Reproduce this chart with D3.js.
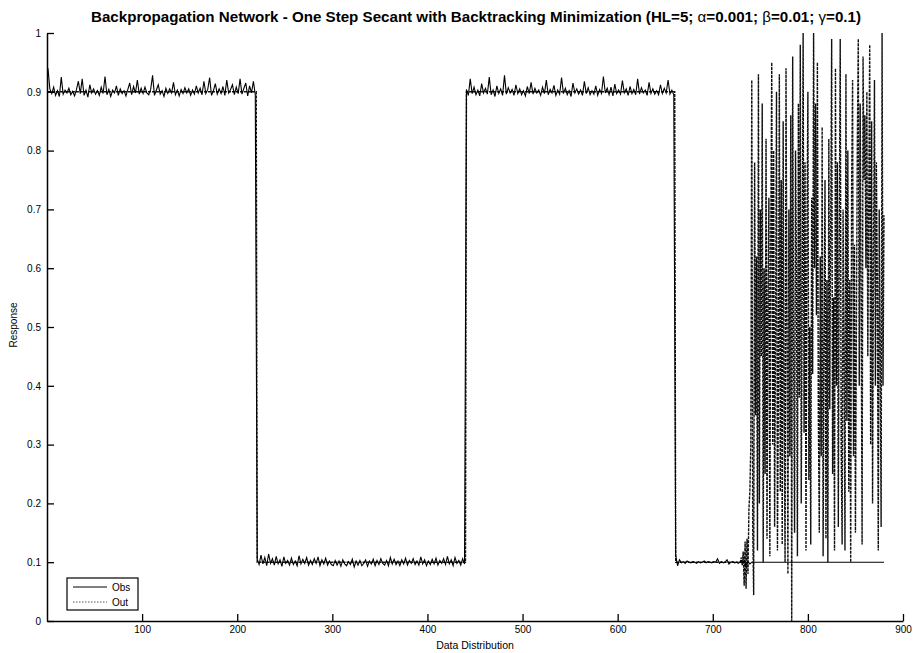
<!DOCTYPE html>
<html>
<head>
<meta charset="utf-8">
<script src="https://cdn.jsdelivr.net/npm/d3@7"></script>
<style>
  html, body { margin: 0; padding: 0; background: #fff; }
  svg { display: block; }
  text { font-family: "Liberation Sans", Arial, sans-serif; fill: #000; }
</style>
</head>
<body>
<div id="chart"></div>
<script>
// ---------------- DATA ----------------
const xTicks = [100, 200, 300, 400, 500, 600, 700, 800, 900];
const yTicks = [0, 0.1, 0.2, 0.3, 0.4, 0.5, 0.6, 0.7, 0.8, 0.9, 1];
const seriesNames = ["Obs", "Out"];

// Obs, x = 1..219 (every 2nd sample)
const obsA = [.940,.905,.897,.908,.894,.902,.892,.925,.896,.903,
  .898,.906,.895,.901,.893,.904,.918,.897,.922,.894,
  .903,.891,.912,.898,.905,.896,.902,.894,.908,.897,
  .926,.895,.904,.892,.903,.898,.910,.894,.905,.897,
  .902,.893,.904,.915,.895,.909,.898,.920,.896,.906,
  .897,.908,.898,.895,.904,.928,.894,.903,.912,.896,
  .902,.892,.906,.897,.905,.898,.916,.895,.903,.893,
  .904,.897,.907,.898,.905,.894,.903,.896,.910,.898,
  .906,.895,.918,.897,.904,.924,.894,.902,.914,.896,
  .905,.897,.909,.894,.920,.898,.904,.912,.895,.908,
  .897,.922,.896,.906,.915,.893,.910,.898,.918,.895];
// Obs, x = 221..439
const obsB = [.105,.096,.112,.097,.108,.094,.114,.098,.106,.095,
  .110,.097,.104,.093,.109,.098,.103,.095,.107,.096,
  .102,.094,.111,.097,.105,.098,.108,.095,.103,.096,
  .106,.098,.109,.094,.104,.097,.107,.095,.102,.096,
  .094,.103,.095,.102,.093,.104,.097,.094,.101,.096,
  .105,.092,.102,.095,.103,.094,.098,.104,.093,.102,
  .097,.105,.094,.103,.096,.106,.098,.095,.103,.094,
  .108,.097,.105,.096,.102,.094,.104,.097,.107,.095,
  .103,.098,.106,.096,.102,.095,.109,.097,.104,.094,
  .102,.096,.105,.097,.107,.095,.103,.098,.106,.096,
  .110,.097,.104,.094,.108,.098,.103,.095,.106,.097];
// Obs, x = 441..659
const obsC = [.904,.894,.922,.897,.908,.895,.903,.893,.914,.898,
  .906,.896,.925,.895,.903,.892,.910,.897,.905,.894,
  .928,.896,.907,.898,.904,.894,.912,.897,.905,.895,
  .902,.893,.909,.897,.916,.896,.906,.898,.903,.894,
  .908,.897,.920,.895,.904,.898,.911,.894,.903,.896,
  .924,.897,.906,.895,.902,.892,.915,.898,.905,.896,
  .903,.894,.918,.897,.907,.895,.902,.896,.910,.894,
  .904,.897,.926,.898,.906,.895,.908,.893,.913,.897,
  .903,.896,.919,.898,.905,.894,.909,.897,.904,.895,
  .922,.896,.907,.898,.903,.894,.916,.897,.905,.896,
  .902,.895,.912,.897,.906,.898,.920,.896,.903,.895];
// Obs, x = 661..741
const obsD = [.112,.094,.104,.099,.101,.098,.102,.100,.099,.101,
  .100,.098,.101,.099,.100,.102,.099,.101,.100,.099,
  .101,.100,.106,.098,.101,.099,.100,.104,.097,.100,
  .101,.099,.100,.098,.101,.098,.103,.094,.101,.097,.100];
// Obs, final point
const obsTailX = [880];
const obsTailY = [0.1];

// Out, x = 1..729 (follows the target levels)
const outStepX = [1, 220, 221, 440, 441, 660, 661, 729];
const outStepY = [0.9, 0.9, 0.1, 0.1, 0.9, 0.9, 0.1, 0.1];
// Out, x = 730..880
const outChaos = [.108,.095,.118,.060,.135,.055,.140,.080,.190,.220,
  .30,.92,.15,.044,.78,.35,.62,.12,.93,.20,
  .70,.45,.88,.10,.60,.25,.82,.14,.55,.72,
  .11,.66,.95,.30,.80,.16,.50,.90,.12,.40,
  .93,.22,.75,.13,.85,.35,.10,.94,.50,.08,
  .70,.28,.86,.00,.96,.45,.15,.80,.60,.11,
  .88,.38,.98,.20,.55,1.00,.32,.78,.12,.65,
  .90,.24,.50,.13,.72,.42,1.00,.60,.88,.52,
  .95,.35,.15,.62,.28,.84,.11,.48,.75,.14,
  .58,.10,.82,.36,.68,.99,.25,.55,.12,.94,
  .40,.78,.16,.66,.99,.30,.13,.70,.45,.12,
  .93,.34,.80,.22,.58,.10,.74,.92,.28,.64,
  .15,.50,.82,.99,.40,.88,.55,.13,.96,.75,
  .86,.60,.90,.45,.72,.98,.30,.85,.20,.62,
  .92,.40,.78,.58,.12,.70,.45,.16,1.00,.40,
  .69];

// ---------------- BUILD SERIES ----------------
function seg(vals, start, step) { return vals.map((v, i) => [start + i * step, v]); }
const obsData = [].concat(
  seg(obsA, 1, 2), seg(obsB, 221, 2), seg(obsC, 441, 2), seg(obsD, 661, 2),
  obsTailX.map((x, i) => [x, obsTailY[i]])
);
const outData = [].concat(
  outStepX.map((x, i) => [x, outStepY[i]]),
  seg(outChaos, 730, 1)
);

// ---------------- CHART ----------------
const W = 916, H = 653;
const svg = d3.select("#chart").append("svg").attr("width", W).attr("height", H);

const x = d3.scaleLinear().domain([0, 900]).range([47, 903]);
const y = d3.scaleLinear().domain([0, 1]).range([621, 33]);

const line = d3.line().x(d => x(d[0])).y(d => y(d[1]));

// Out (dotted) underneath
svg.append("path").datum(outData)
  .attr("d", line).attr("fill", "none")
  .attr("stroke", "#111").attr("stroke-width", 1.4)
  .attr("stroke-dasharray", "3,1");
// Obs (solid black)
svg.append("path").datum(obsData)
  .attr("d", line).attr("fill", "none")
  .attr("stroke", "#000").attr("stroke-width", 1.1);

// Axes
const xAxis = d3.axisBottom(x).tickValues(xTicks).tickSize(-7).tickSizeOuter(0).tickPadding(5)
  .tickFormat(d3.format("d"));
const yAxis = d3.axisLeft(y).tickValues(yTicks).tickSize(-7).tickSizeOuter(0).tickPadding(6)
  .tickFormat(d => String(+d.toFixed(1)));

const gx = svg.append("g").attr("transform", "translate(0,621)").call(xAxis);
const gy = svg.append("g").attr("transform", "translate(47,0)").call(yAxis);
[gx, gy].forEach(g => {
  g.selectAll("path.domain").attr("stroke", "#000").attr("stroke-width", 1.5);
  g.selectAll(".tick line").attr("stroke", "#000").attr("stroke-width", 1.3);
  g.selectAll(".tick text").style("font-family", "'Liberation Sans', Arial, sans-serif")
    .style("font-size", "10px").attr("fill", "#000");
});

// Title
const title = svg.append("text").attr("x", 476).attr("y", 22)
  .attr("text-anchor", "middle").style("font-size", "14px").style("font-weight", "bold");
title.append("tspan").text("Backpropagation Network - One Step Secant with Backtracking Minimization (HL=5; ");
title.append("tspan").style("font-weight", "normal").text("α");
title.append("tspan").text("=0.001; ");
title.append("tspan").style("font-weight", "normal").text("β");
title.append("tspan").text("=0.01; ");
title.append("tspan").style("font-weight", "normal").text("γ");
title.append("tspan").text("=0.1)");
title.attr("textLength", 770).attr("lengthAdjust", "spacingAndGlyphs");

// Axis labels
svg.append("text").attr("x", 475).attr("y", 649).attr("text-anchor", "middle")
  .style("font-size", "10.5px").text("Data Distribution");
svg.append("text").attr("transform", "translate(17,325) rotate(-90)").attr("text-anchor", "middle")
  .style("font-size", "10px").text("Response");

// Legend
const lg = svg.append("g");
lg.append("rect").attr("x", 67).attr("y", 578).attr("width", 71).attr("height", 32)
  .attr("fill", "#fff").attr("stroke", "#000").attr("stroke-width", 1.2);
const legendStyles = [
  { stroke: "#000", dash: null },
  { stroke: "#555", dash: "1.5,1.5" }
];
seriesNames.forEach((name, i) => {
  const yy = 587 + i * 15;
  lg.append("line").attr("x1", 73).attr("x2", 107).attr("y1", yy).attr("y2", yy)
    .attr("stroke", legendStyles[i].stroke).attr("stroke-width", 1)
    .attr("stroke-dasharray", legendStyles[i].dash);
  lg.append("text").attr("x", 112).attr("y", yy + 4).style("font-size", "10px").text(name);
});
</script>
</body>
</html>
